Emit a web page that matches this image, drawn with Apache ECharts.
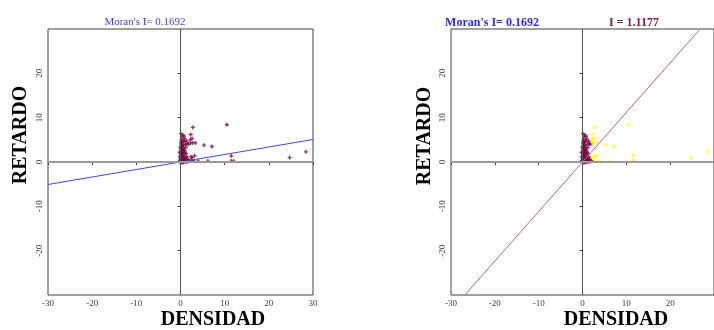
<!DOCTYPE html>
<html><head><meta charset="utf-8">
<script src="https://cdn.jsdelivr.net/npm/echarts@6/dist/echarts.min.js"></script>
<style>html,body{margin:0;padding:0;background:#fff}#c{width:714px;height:330px}</style>
</head><body><div id="c"></div>
<script>
const axisMin = -30, axisMax = 30, tickStep = 10;
const moranI = 0.1692;
const slopeI = 1.1177;
const leftTitle = "Moran's I= 0.1692";
const rightTitleA = "Moran's I= 0.1692";
const rightTitleB = "I = 1.1177";
const xName = "DENSIDAD";
const yName = "RETARDO";

// points near the origin (maroon in both panels)
const clusterPoints = [
  [0.1,6.4],[0.5,6.1],[0.3,5.6],[0.8,5.8],[0.2,5.0],[0.6,4.9],[1.0,5.2],[0.1,4.5],
  [0.4,4.4],[0.9,4.6],[1.4,4.7],[1.8,4.0],[1.5,4.2],[0.2,3.9],[0.6,3.8],[1.1,3.9],
  [0.0,3.4],[0.3,3.3],[0.7,3.2],[1.2,3.3],[0.1,2.9],[0.5,2.8],[0.9,2.7],[0.2,2.4],
  [0.6,2.3],[1.0,2.2],[0.0,2.0],[0.4,1.9],[0.8,1.8],[1.3,1.9],[0.1,1.5],[0.5,1.4],
  [0.9,1.3],[1.4,1.2],[0.0,1.0],[0.3,0.9],[0.7,0.8],[1.1,0.9],[1.6,0.7],[0.2,0.5],
  [0.6,0.4],[1.0,0.5],[1.5,0.4],[2.0,0.3],[0.0,0.1],[0.4,0.0],[0.8,0.1],[1.2,0.0],
  [1.7,0.1],[-0.2,0.3],[-0.1,1.2],[-0.2,2.2],[0.1,0.2],[0.3,0.1],[0.5,0.2],[0.7,0.0],
  [0.9,0.2],[1.4,0.1],[0.2,1.2],[0.4,2.6],[0.3,3.6],[0.2,4.2],[0.0,0.6],[0.1,-0.2],
  [0.6,-0.1],[0.1,3.1],[0.3,2.1],[0.2,1.7],[0.4,1.1],[0.2,0.8]
];
// outlying points (maroon left, yellow right)
const outerPoints = [
  [2.8,7.8],[10.5,8.4],[5.3,3.8],[7.1,3.5],[2.3,6.2],[2.6,5.3],[2.2,5.0],[2.3,4.3],
  [2.8,4.3],[3.4,4.3],[3.2,1.4],[2.4,1.2],[2.6,1.0],[11.5,1.4],[11.5,0.2],[12.0,0.2],
  [24.7,1.0],[28.4,2.3],[6.2,0.2],[4.0,0.2],[3.0,0.2],[2.6,0.3],[2.2,0.2]
];

const maroon = '#800040';
const plusSym = 'path://M1,0H2V1H3V2H2V3H1V2H0V1H1Z';
const serif = '"Liberation Serif","DejaVu Serif",serif';

function xAx(g, hideMax){
  return {gridIndex:g, type:'value', min:axisMin, max:axisMax, interval:tickStep,
    axisLine:{show:false}, splitLine:{show:false},
    axisTick:{show:true, length:3, lineStyle:{color:'#404040'}},
    axisLabel:{fontSize:9, color:'#404040', fontFamily:serif, margin:4, showMaxLabel:!hideMax}};
}
function yAx(g){
  return {gridIndex:g, type:'value', min:axisMin, max:axisMax, interval:tickStep,
    axisLine:{show:false}, splitLine:{show:false},
    axisTick:{show:true, length:3, lineStyle:{color:'#404040'}},
    axisLabel:{fontSize:9, color:'#404040', fontFamily:serif, margin:4, rotate:90,
      showMinLabel:false, showMaxLabel:false}};
}
function zeroLines(i){
  return {type:'line', xAxisIndex:i, yAxisIndex:i, data:[], silent:true, z:1,
    markLine:{silent:true, symbol:'none', label:{show:false}, animation:false,
      data:[{xAxis:0, lineStyle:{color:'#555555', width:1, type:'solid'}},
            {yAxis:0, lineStyle:{color:'#999999', width:2, type:'solid'}}]}};
}

const chart = echarts.init(document.getElementById('c'));
chart.setOption({
  animation:false,
  backgroundColor:'#fff',
  grid:[
    {left:48, top:29, width:265, height:266, show:true, borderColor:'#404040', borderWidth:1},
    {left:451, top:29, width:267, height:266, show:true, borderColor:'#404040', borderWidth:1}
  ],
  xAxis:[xAx(0,false), xAx(1,true)],
  yAxis:[yAx(0), yAx(1)],
  series:[
    zeroLines(0),
    {type:'line', xAxisIndex:0, yAxisIndex:0, symbol:'none', z:3,
      data:[[axisMin, axisMin*moranI],[axisMax, axisMax*moranI]],
      lineStyle:{color:'#4040ff', width:1}},
    {type:'scatter', xAxisIndex:0, yAxisIndex:0, symbol:plusSym, symbolSize:4, z:2,
      data:clusterPoints.concat(outerPoints), itemStyle:{color:maroon}},
    zeroLines(1),
    {type:'scatter', xAxisIndex:1, yAxisIndex:1, symbol:plusSym, symbolSize:4, z:2,
      data:outerPoints, itemStyle:{color:'#ffff00'}},
    {type:'scatter', xAxisIndex:1, yAxisIndex:1, symbol:plusSym, symbolSize:4, z:2,
      data:clusterPoints, itemStyle:{color:maroon}},
    {type:'line', xAxisIndex:1, yAxisIndex:1, symbol:'none', z:3, clip:true,
      data:[[axisMin/slopeI, axisMin],[axisMax/slopeI, axisMax]],
      lineStyle:{color:'#b8608a', width:1}}
  ],
  graphic:[
    {type:'text', x:145, y:22, style:{text:leftTitle, font:'11px '+serif, fill:'#4040ff', textAlign:'center', textVerticalAlign:'middle'}},
    {type:'text', x:492, y:23, style:{text:rightTitleA, font:'bold 12px '+serif, fill:'#2a2aff', textAlign:'center', textVerticalAlign:'middle'}},
    {type:'text', x:634, y:23, style:{text:rightTitleB, font:'bold 12px '+serif, fill:'#8a1a4a', textAlign:'center', textVerticalAlign:'middle'}},
    {type:'text', x:213, y:320, style:{text:xName, font:'bold 20px '+serif, fill:'#000', textAlign:'center', textVerticalAlign:'middle'}},
    {type:'text', x:616, y:320, style:{text:xName, font:'bold 20px '+serif, fill:'#000', textAlign:'center', textVerticalAlign:'middle'}},
    {type:'text', x:21, y:135, rotation:Math.PI/2, style:{text:yName, font:'bold 20px '+serif, fill:'#000', textAlign:'center', textVerticalAlign:'middle'}},
    {type:'text', x:425, y:136, rotation:Math.PI/2, style:{text:yName, font:'bold 20px '+serif, fill:'#000', textAlign:'center', textVerticalAlign:'middle'}}
  ]
});
</script>
</body></html>
